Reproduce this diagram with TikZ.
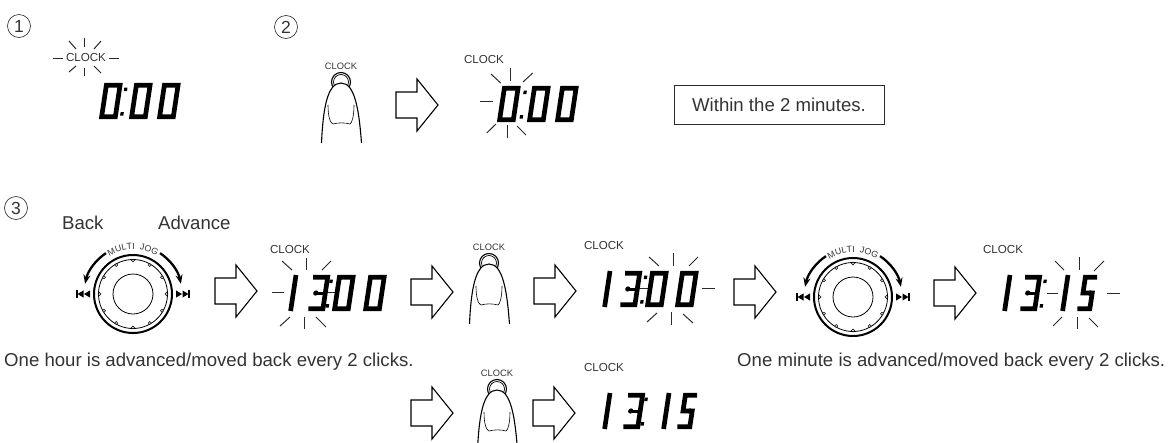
\documentclass[tikz,border=0pt]{standalone}
\usepackage{fontspec}
\usetikzlibrary{arrows.meta,decorations.text}
\setmainfont{Liberation Sans}
\definecolor{inkgray}{HTML}{333333}
\definecolor{linegray}{HTML}{2A2A2A}
\tikzset{
    lcd/.style={xslant=0.15, line width=4.7pt, line join=miter, black},
    lcdbar/.style={xslant=0.15, line width=3pt, black},
    blink/.style={line width=1pt, linegray},
    outline/.style={line width=1.1pt, black},
    % LCD digits, origin at the top left corner
    digitzero/.pic={\draw[lcd] (2.3,2.3) -- (16,2.3) -- (16,33.7) -- (2.3,33.7) -- cycle;},
    digitone/.pic={\draw[lcd] (2,0) -- (2,36);},
    digitthree/.pic={
        \draw[lcd] (0,2.3) -- (14.5,2.3) -- (14.5,33.7) -- (0,33.7);
        \draw[lcdbar] (4,18) -- (15,18);
        \fill[xslant=0.15] (5,18) circle[radius=2.6];
    },
    digitfive/.pic={
        \draw[lcd] (14,2.3) -- (2.3,2.3) -- (2.3,18) -- (11.5,18) -- (11.5,33.7) -- (-1,33.7);
        \fill[xslant=0.15] (9,18) circle[radius=2.6];
    },
    colon/.pic={
        \fill[xslant=0.15] (-1.6,4.5) rectangle (1.6,8.2);
        \fill[xslant=0.15] (-1.6,29) rectangle (1.6,32.7);
    },
    openarrow/.pic={
        \draw[outline, fill=white] (0,-13) -- (21,-13) -- (21,-26) -- (42,0) -- (21,26) -- (21,13) -- (0,13) -- cycle;
    },
    fingertip/.pic={
        \draw[outline] (0,0) circle[radius=9.5];
        \draw[line width=0.7pt] (0,0) circle[radius=7.5];
        \draw[outline, fill=white] (-19.5,61) .. controls (-18,28) and (-14,1) .. (0,1) .. controls (14,1) and (18,28) .. (20.5,61);
        \draw[line width=0.6pt] (-13,23) .. controls (-13,34) and (-11,41) .. (-8,42) .. controls (-3,40.5) and (4,40.5) .. (9,42) .. controls (11,41) and (13,34) .. (13,23);
    },
    skipback/.pic={
        \fill (0,-3.6) rectangle (1.6,3.6);
        \fill (7.5,-3.6) -- (1.6,0) -- (7.5,3.6) -- cycle;
        \fill (14,-3.6) -- (8,0) -- (14,3.6) -- cycle;
    },
    jogdial/.pic={
        \draw[line width=2pt] (0,0) circle[radius=39];
        \draw[line width=0.8pt] (0,0) circle[radius=34.5];
        \draw[line width=0.8pt] (0,0) circle[radius=20];
        \foreach \a in {0,30,...,330}
            \draw[line width=0.6pt, fill=white] (\a:33.5) circle[radius=1.5];
        \draw[line width=2.3pt, -{Stealth[length=9pt,width=7pt]}] (236.5:49) arc[start angle=236.5, end angle=192, radius=49];
        \draw[line width=2.3pt, -{Stealth[length=9pt,width=7pt]}] (303.5:49) arc[start angle=303.5, end angle=348, radius=49];
        \pic at (-57,0) {skipback};
        \pic[xscale=-1] at (57,0) {skipback};
        \path[decorate, decoration={text along path, text align=center,
            text={|\fontsize{8.8}{9}\selectfont\color{inkgray}|MULTI{ }{ }JOG}}]
            (225:44.5) arc[start angle=225, end angle=315, radius=44.5];
    },
}
\begin{document}
\begin{tikzpicture}[x=1pt, y=-1pt,
    caption/.style={font=\fontsize{18.6}{20}\selectfont, text=inkgray, inner sep=0pt},
    clocktext/.style={font=\fontsize{11.6}{12}\selectfont, text=inkgray, inner sep=0pt},
    clocksmall/.style={font=\fontsize{9.3}{10}\selectfont, text=inkgray, inner sep=0pt},
    stepnum/.style={circle, draw=linegray, line width=0.6pt, minimum size=23pt, inner sep=0pt, font=\fontsize{17.5}{18}\selectfont, text=inkgray}
]
    \useasboundingbox (0,0) rectangle (1173,442);
    \clip (0,0) rectangle (1173,442);

    % Step numbers
    \node[stepnum] (step1) at (19,26) {1};
    \node[stepnum] (step2) at (286,27) {2};
    \node[stepnum] (step3) at (16,208) {3};

    % Step 1
    \node[clocktext] (clock1) at (86,58) {CLOCK};
    \foreach \ax/\ay/\bx/\by in {84/38/84/47, 69/41/76/49, 101/41/94/49, 53/58/63/58, 109/58/119/58, 69/72/76/66, 84/68/84/76, 101/73/94/66}
        \draw[blink] (\ax,\ay) -- (\bx,\by);
    \pic at (104.4,83) {digitzero};
    \pic at (126.6,83) {colon};
    \pic at (134.4,83) {digitzero};
    \pic at (162.4,83) {digitzero};

    % Step 2
    \node[clocksmall] (button1) at (341,66) {CLOCK};
    \pic at (341,82) {fingertip};
    \pic at (396,105) {openarrow};
    \node[clocktext] (clock2) at (484,60) {CLOCK};
    \foreach \ax/\ay/\bx/\by in {510.7/68/510.7/81, 491/74/500.7/83, 532.7/73/523/82, 480/101/493/101, 486.7/133/496/124, 507/125/507/138, 526/135/517/126}
        \draw[blink] (\ax,\ay) -- (\bx,\by);
    \pic at (502.4,86) {digitzero};
    \pic at (526,86) {colon};
    \pic at (532.4,86) {digitzero};
    \pic at (560.4,86) {digitzero};
    \node[draw=linegray, line width=0.9pt, minimum width=210pt, minimum height=39pt, inner sep=0pt, font=\fontsize{18.6}{20}\selectfont, text=inkgray] (limit) at (779,104.5) {Within the 2 minutes.};

    % Step 3, hour
    \node[caption, anchor=west] (back) at (62,223) {Back};
    \node[caption, anchor=west] (advance) at (158,223) {Advance};
    \pic at (133,294) {jogdial};
    \pic at (215,291) {openarrow};
    \node[clocktext] (clock3) at (290,250) {CLOCK};
    \foreach \ax/\ay/\bx/\by in {306.7/258/306.7/270, 282/261/292/270, 331/261/322/270, 272/292/284/292, 326/292/338/292, 280/326/290/317, 304/317/304/329, 326/327/316/317}
        \draw[blink] (\ax,\ay) -- (\bx,\by);
    \pic at (294,275) {digitone};
    \pic at (313.5,275) {digitthree};
    \pic at (332,275) {colon};
    \pic at (337.4,275) {digitzero};
    \pic at (368.5,275) {digitzero};
    \node[caption, anchor=west] (hournote) at (4,362) {One hour is advanced/moved back every 2 clicks.};

    % Step 3, press
    \pic at (411,292) {openarrow};
    \node[clocksmall] (button2) at (489,247) {CLOCK};
    \pic at (489,263) {fingertip};
    \pic at (534,291) {openarrow};
    \node[clocktext] (clock4) at (604,246) {CLOCK};
    \foreach \ax/\ay/\bx/\by in {673.3/253/673.3/266, 649/257/659/266, 698/257/689/266, 702/288/715/288, 636/288/648/288, 647/322/657/313, 671/312/671/325, 693/323/683/314}
        \draw[blink] (\ax,\ay) -- (\bx,\by);
    \pic at (608,271) {digitone};
    \pic at (625.5,271) {digitthree};
    \pic at (646.5,271) {colon};
    \pic at (650.4,271) {digitzero};
    \pic at (680.4,271) {digitzero};

    % Step 3, minute
    \pic at (734,292) {openarrow};
    \pic at (853,297) {jogdial};
    \pic at (934,293) {openarrow};
    \node[clocktext] (clock5) at (1003,250) {CLOCK};
    \foreach \ax/\ay/\bx/\by in {1079/257/1079/270, 1055/261/1064/270, 1104/261/1094/271, 1047/293/1058/293, 1107/293/1120/293, 1053/326/1062/317, 1077/317/1077/329, 1098/327/1089/318}
        \draw[blink] (\ax,\ay) -- (\bx,\by);
    \pic at (1008,275) {digitone};
    \pic at (1025.4,275) {digitthree};
    \pic at (1046,275) {colon};
    \pic at (1066,275) {digitone};
    \pic at (1083.4,275) {digitfive};
    \node[caption, anchor=west] (minutenote) at (737,361.5) {One minute is advanced/moved back every 2 clicks.};

    % Step 3, last press
    \pic at (411,413) {openarrow};
    \node[clocksmall] (button3) at (497,373) {CLOCK};
    \pic at (497,389) {fingertip};
    \pic at (533,413) {openarrow};
    \node[clocktext] (clock6) at (604,368) {CLOCK};
    \pic at (608,393) {digitone};
    \pic at (628.4,393) {digitthree};
    \pic at (647,393) {colon};
    \pic at (667,393) {digitone};
    \pic at (683.4,393) {digitfive};

\end{tikzpicture}
\end{document}
